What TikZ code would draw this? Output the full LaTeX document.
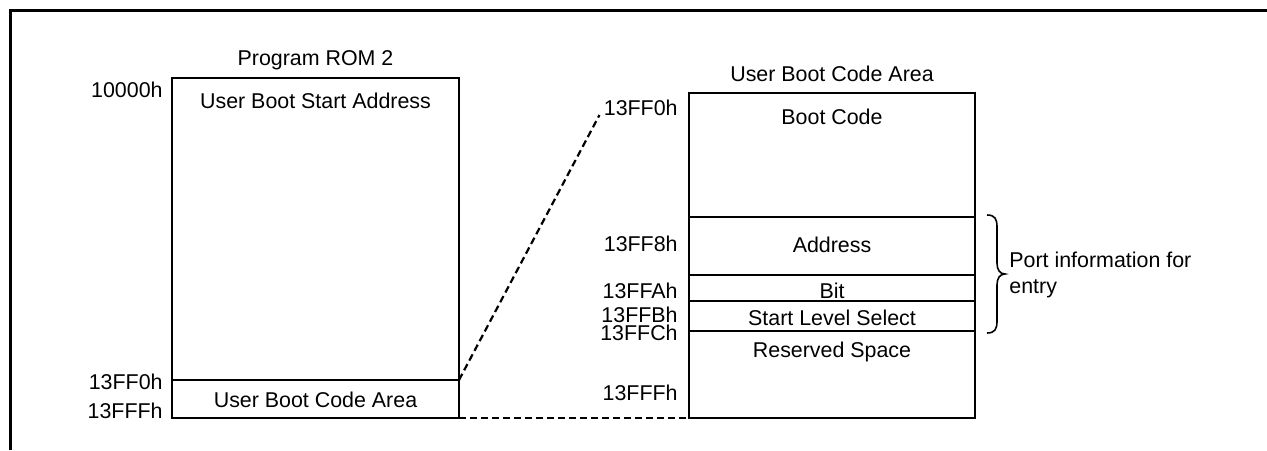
\documentclass[tikz,border=0pt]{standalone}
\usepackage{fontspec}
\setmainfont{Liberation Sans}
\begin{document}
\begin{tikzpicture}[x=0.5pt,y=-0.5pt, font=\fontsize{10.7}{13}\selectfont,
  box/.style={draw, line width=0.8pt, inner sep=0pt, outer sep=0pt, rectangle},
  lbl/.style={inner sep=0pt, anchor=base},
  addr/.style={inner sep=0pt, anchor=base east},
  link/.style={line width=1.1pt, dash pattern=on 3.5pt off 2pt}]
\useasboundingbox (0,0) rectangle (1267,450);
\draw[line width=1.5pt] (10,450) -- (10,10.5) -- (1267,10.5);
% left memory map
\node[box, minimum width=143.5pt, minimum height=151pt] (rom) at (315.5,229) {};
\node[box, minimum width=143.5pt, minimum height=19pt] (romuser) at (315.5,399) {};
\node[lbl] (romtitle) at (315.5,65) {Program ROM 2};
\node[lbl] (romstart) at (315.5,108) {User Boot Start Address};
\node[lbl] (romuserlbl) at (315.5,407) {User Boot Code Area};
\node[addr] (l0) at (163,97) {10000h};
\node[addr] (l1) at (163,389) {13FF0h};
\node[addr] (l2) at (163,418) {13FFFh};
% right memory map
\node[box, minimum width=143pt, minimum height=62pt] (boot) at (832,155) {};
\node[box, minimum width=143pt, minimum height=29pt] (address) at (832,246) {};
\node[box, minimum width=143pt, minimum height=13pt] (bit) at (832,288) {};
\node[box, minimum width=143pt, minimum height=15pt] (sls) at (832,316) {};
\node[box, minimum width=143pt, minimum height=43.5pt] (res) at (832,374.5) {};
\node[lbl] (ubtitle) at (832,81) {User Boot Code Area};
\node[lbl] (bootlbl) at (832,124) {Boot Code};
\node[lbl] (addrlbl) at (832,252) {Address};
\node[lbl] (bitlbl) at (832,298) {Bit};
\node[lbl] (slslbl) at (832,325) {Start Level Select};
\node[lbl] (reslbl) at (832,357.5) {Reserved Space};
\node[addr] (a0) at (678,115) {13FF0h};
\node[addr] (a1) at (678,251) {13FF8h};
\node[addr] (a2) at (678,298) {13FFAh};
\node[addr] (a3) at (678,322) {13FFBh};
\node[addr] (a4) at (678,340.5) {13FFCh};
\node[addr] (a5) at (678,400.5) {13FFFh};
% brace and note
\draw[line width=0.8pt] (987,215) .. controls (995,215) and (997,219) .. (997,227) -- (997,263)
  .. controls (997,270) and (1000,274) .. (1005,274)
  .. controls (1000,274) and (997,278) .. (997,285) -- (997,321)
  .. controls (997,329) and (995,333) .. (987,333);
\node[inner sep=0pt, anchor=base west] (port1) at (1009,267) {Port information for};
\node[inner sep=0pt, anchor=base west] (port2) at (1009,293) {entry};
% links
\draw[link] (romuser.north east) -- ([xshift=-2pt]a0.base west);
\draw[link] (romuser.south east) -- (res.south west);
\end{tikzpicture}
\end{document}
